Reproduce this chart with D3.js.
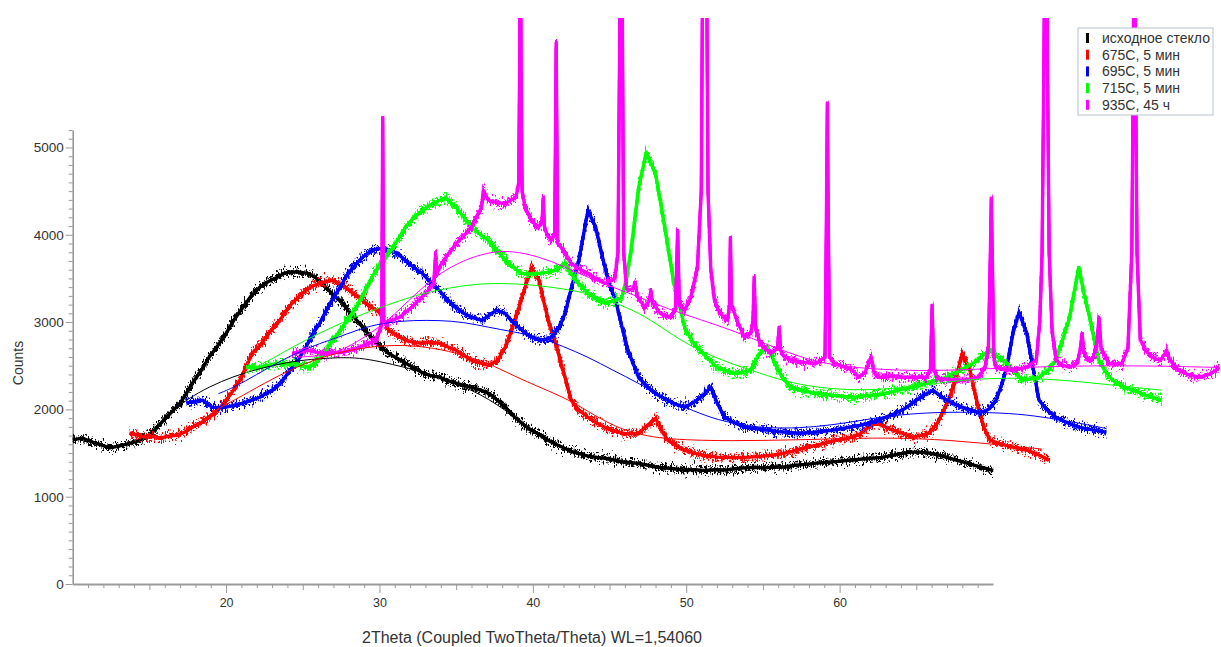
<!DOCTYPE html>
<html>
<head>
<meta charset="utf-8">
<script src="https://cdn.jsdelivr.net/npm/d3@7"></script>
<style>
  html, body { margin: 0; padding: 0; background: #fff; }
  svg { display: block; font-family: "Liberation Sans", Arial, sans-serif; }
</style>
</head>
<body>
<svg id="chart" width="1221" height="647"></svg>
<script>
// ---- Series metadata ----
const seriesNames = ["исходное стекло", "675C, 5 мин", "695C, 5 мин", "715C, 5 мин", "935C, 45 ч"];
const seriesColors = ["#000000", "#ff0000", "#0000ff", "#00ff00", "#ff00ff"];

// ---- Axis ticks ----
const xMajorTicks = [20, 30, 40, 50, 60];
const yMajorTicks = [0, 1000, 2000, 3000, 4000, 5000];

// ---- Measured patterns, [2theta position, counts] ----
const blackData = [[10.0,1650],[10.6,1670],[11.3,1625],[11.9,1590],[12.4,1560],[13.0,1580],[13.7,1610],[14.3,1640],[14.8,1680],[15.3,1760],[15.9,1870],[16.4,1960],[17.0,2070],[17.4,2180],[17.8,2300],[18.4,2450],[18.9,2600],[19.5,2740],[20.0,2870],[20.5,3020],[21.1,3170],[21.6,3290],[22.2,3400],[22.7,3460],[23.3,3510],[23.8,3560],[24.3,3575],[24.9,3570],[25.4,3555],[26.0,3490],[26.5,3400],[27.0,3310],[27.6,3215],[28.1,3100],[28.7,2985],[29.2,2880],[29.8,2760],[30.2,2700],[30.6,2640],[31.2,2580],[31.7,2530],[32.3,2470],[32.8,2420],[33.3,2390],[33.9,2370],[34.4,2330],[35.0,2300],[35.5,2275],[36.0,2255],[36.6,2220],[37.1,2185],[37.6,2120],[38.2,2025],[38.7,1930],[39.3,1840],[39.8,1770],[40.4,1715],[40.9,1655],[41.5,1600],[42.0,1560],[42.5,1520],[43.1,1490],[43.6,1465],[44.2,1450],[44.7,1440],[45.3,1420],[45.8,1400],[46.4,1390],[46.9,1380],[47.5,1360],[48.0,1340],[48.6,1330],[49.2,1320],[49.9,1305],[50.5,1310],[51.2,1300],[51.9,1310],[52.5,1305],[53.2,1320],[53.8,1330],[54.5,1338],[55.1,1330],[55.8,1340],[56.4,1340],[57.1,1360],[57.8,1370],[58.5,1385],[59.2,1395],[59.9,1405],[60.75,1420],[61.45,1430],[62.05,1440],[62.75,1450],[63.35,1470],[64.05,1495],[64.65,1510],[65.15,1510],[65.8,1500],[66.4,1480],[67.0,1450],[67.6,1420],[68.2,1390],[68.8,1360],[69.4,1330],[70.0,1300]];

const redData = [[13.7,1727],[14.3,1700],[14.8,1682],[15.2,1690],[15.7,1670],[16.2,1690],[16.8,1705],[17.3,1740],[17.8,1796],[18.4,1850],[18.9,1910],[19.5,2000],[20.0,2105],[20.4,2200],[20.9,2334],[21.3,2490],[21.7,2643],[22.2,2730],[22.6,2826],[23.0,2920],[23.5,3020],[23.9,3120],[24.3,3215],[24.8,3300],[25.2,3363],[25.6,3410],[26.1,3443],[26.5,3460],[26.9,3478],[27.4,3440],[27.8,3398],[28.2,3340],[28.7,3283],[29.1,3220],[29.5,3169],[30.0,3112],[30.3,3010],[30.6,2906],[31.2,2840],[31.7,2791],[32.2,2770],[32.8,2757],[33.3,2770],[33.9,2757],[34.4,2720],[35.0,2677],[35.5,2620],[36.0,2563],[36.6,2530],[37.1,2505],[37.7,2560],[38.2,2711],[38.6,2900],[38.9,3054],[39.2,3230],[39.5,3398],[39.9,3626],[40.1,3560],[40.4,3478],[40.8,3169],[41.1,2960],[41.5,2757],[41.8,2550],[42.1,2368],[42.5,2105],[43.0,1990],[43.6,1910],[44.1,1850],[44.7,1796],[45.2,1760],[45.8,1727],[46.3,1720],[46.9,1727],[47.3,1790],[47.7,1853],[48.0,1899],[48.4,1760],[48.8,1647],[49.3,1590],[49.9,1533],[50.5,1500],[51.0,1480],[51.5,1465],[52.0,1453],[52.6,1450],[53.1,1445],[53.6,1450],[54.2,1453],[54.7,1460],[55.3,1470],[55.8,1480],[56.4,1499],[56.9,1520],[57.5,1550],[58.0,1570],[58.5,1590],[59.1,1615],[59.6,1640],[60.25,1660],[60.85,1682],[61.35,1720],[61.85,1790],[62.35,1842],[62.85,1810],[63.35,1770],[64.05,1727],[64.75,1682],[65.25,1700],[65.85,1727],[66.4,1850],[67.0,2071],[67.3,2200],[67.6,2368],[68.0,2643],[68.2,2560],[68.5,2448],[68.8,2200],[69.1,1991],[69.4,1800],[69.8,1647],[70.4,1610],[70.8,1590],[71.3,1567],[71.7,1550],[72.2,1533],[72.7,1500],[73.2,1460],[73.7,1419]];

const blueData = [[17.4,2071],[17.9,2090],[18.5,2105],[18.8,2060],[19.1,2025],[19.6,2020],[20.0,2025],[20.5,2045],[21.1,2071],[21.6,2100],[22.2,2139],[22.7,2190],[23.3,2254],[23.8,2360],[24.3,2482],[24.8,2600],[25.2,2711],[25.6,2850],[26.1,2986],[26.5,3120],[26.9,3249],[27.4,3390],[27.8,3512],[28.2,3610],[28.7,3707],[29.1,3770],[29.5,3821],[29.8,3835],[30.2,3844],[30.6,3830],[31.2,3780],[31.7,3707],[32.2,3630],[32.8,3558],[33.3,3460],[33.9,3363],[34.4,3260],[35.0,3169],[35.5,3100],[36.0,3054],[36.7,3020],[37.1,3070],[37.6,3135],[38.2,3100],[38.7,3000],[39.3,2906],[39.8,2840],[40.4,2791],[40.8,2800],[41.2,2826],[41.7,2930],[42.1,3100],[42.5,3380],[43.0,3707],[43.3,4000],[43.6,4279],[44.1,4084],[44.4,3850],[44.7,3626],[45.0,3430],[45.4,3249],[45.8,2950],[46.2,2677],[46.9,2368],[47.3,2290],[47.7,2219],[48.2,2160],[48.8,2105],[49.3,2060],[49.9,2025],[50.3,2060],[50.7,2105],[51.2,2180],[51.6,2254],[52.0,2080],[52.5,1910],[53.1,1850],[53.8,1796],[54.5,1780],[55.3,1762],[56.0,1745],[56.7,1735],[57.4,1727],[58.2,1735],[58.9,1750],[59.6,1762],[60.45,1790],[61.25,1815],[61.95,1842],[62.55,1880],[63.15,1920],[63.65,1956],[64.25,2010],[64.75,2071],[65.35,2150],[66.1,2219],[66.5,2160],[67.0,2105],[67.5,2060],[68.0,2025],[68.6,1990],[69.1,1956],[69.7,2000],[70.2,2105],[70.6,2300],[70.9,2482],[71.3,2871],[71.7,3112],[72.2,2871],[72.6,2482],[73.0,2105],[73.5,2000],[74.1,1910],[74.8,1850],[75.6,1796],[76.5,1765],[77.4,1739]];

const greenData = [[21.3,2482],[21.7,2480],[22.2,2482],[22.7,2500],[23.3,2528],[23.8,2520],[24.3,2528],[24.9,2500],[25.4,2482],[26.0,2560],[26.5,2677],[27.0,2800],[27.6,2940],[28.0,3050],[28.5,3169],[29.0,3340],[29.5,3512],[30.0,3650],[30.6,3787],[31.2,3940],[31.7,4084],[32.2,4190],[32.8,4279],[33.3,4340],[33.9,4393],[34.3,4427],[35.0,4313],[35.5,4200],[36.0,4084],[36.6,4000],[37.1,3935],[37.7,3820],[38.2,3707],[38.7,3630],[39.3,3558],[39.8,3550],[40.4,3558],[40.9,3570],[41.5,3592],[42.1,3672],[42.5,3558],[43.0,3440],[43.6,3329],[44.1,3270],[44.7,3215],[45.2,3240],[45.8,3283],[46.1,3500],[46.4,3821],[46.9,4542],[47.4,4942],[48.0,4702],[48.6,4084],[49.2,3443],[49.9,2940],[50.4,2780],[50.9,2677],[51.5,2570],[52.0,2482],[52.6,2440],[53.1,2414],[53.7,2420],[54.2,2448],[54.5,2550],[54.8,2643],[55.3,2711],[55.6,2600],[55.9,2482],[56.3,2360],[56.8,2254],[57.6,2210],[58.5,2185],[59.6,2160],[60.85,2139],[61.95,2160],[63.05,2185],[63.85,2220],[64.75,2254],[65.85,2310],[67.0,2368],[67.8,2440],[68.7,2528],[69.2,2600],[69.8,2677],[70.3,2600],[70.9,2528],[71.4,2430],[71.9,2334],[72.5,2350],[73.0,2368],[73.6,2450],[74.1,2563],[74.5,2780],[75.0,3054],[75.3,3350],[75.6,3626],[75.9,3350],[76.3,3054],[76.6,2800],[76.9,2563],[77.3,2440],[77.8,2334],[78.4,2270],[79.1,2219],[80.0,2160],[81.0,2105]];

const magentaData = [[24.3,2643],[24.9,2660],[25.4,2677],[26.0,2650],[26.5,2643],[27.0,2650],[27.6,2654],[28.1,2680],[28.7,2711],[29.2,2750],[29.8,2791],[30.1,2950],[30.15,3020],[30.21,5342],[30.28,3000],[30.4,2986],[30.8,3020],[31.3,3054],[31.7,3110],[32.1,3169],[32.6,3260],[33.2,3363],[33.55,3450],[33.66,3787],[33.75,3550],[33.9,3626],[34.4,3760],[35.0,3901],[35.5,3990],[36.0,4084],[36.3,4200],[36.65,4313],[36.78,4507],[37.1,4393],[37.6,4370],[38.2,4359],[38.6,4400],[38.9,4427],[39.08,4600],[39.14,6000],[39.18,8200],[39.23,6000],[39.3,4500],[39.5,4313],[39.9,4164],[40.36,4084],[40.6,4150],[40.68,4427],[40.75,4100],[40.9,4015],[41.2,3935],[41.42,4000],[41.47,5000],[41.52,6200],[41.57,5000],[41.62,3900],[41.84,3855],[42.2,3760],[42.5,3672],[43.0,3610],[43.6,3558],[44.1,3500],[44.7,3443],[45.1,3480],[45.35,3500],[45.55,3800],[45.65,6000],[45.75,9500],[45.85,6000],[45.92,3800],[46.1,3400],[46.2,3363],[46.5,3380],[46.66,3443],[46.8,3300],[47.3,3169],[47.6,3250],[47.7,3363],[47.8,3220],[48.3,3100],[49.0,3054],[49.3,3150],[49.44,4050],[49.55,3200],[49.9,3135],[50.3,3283],[50.73,3626],[50.98,4500],[51.05,6500],[51.2,9000],[51.35,6500],[51.42,4500],[51.6,3600],[51.84,3249],[52.2,3100],[52.7,3020],[52.82,3200],[52.88,3970],[52.95,3200],[53.3,3020],[53.8,2826],[54.2,2871],[54.35,3000],[54.43,3512],[54.52,2950],[54.8,2757],[55.5,2643],[55.95,2700],[56.06,2940],[56.15,2680],[56.4,2597],[57.4,2540],[58.5,2528],[59.05,2600],[59.13,4000],[59.2,5503],[59.27,4000],[59.35,2600],[59.65,2528],[60.25,2490],[60.85,2448],[61.25,2368],[61.65,2420],[62.05,2597],[62.25,2420],[62.55,2368],[63.35,2380],[64.05,2368],[64.85,2370],[65.65,2368],[65.92,2450],[66.03,3192],[66.14,2450],[66.4,2357],[67.2,2340],[68.0,2334],[68.6,2350],[69.1,2368],[69.5,2500],[69.7,2700],[69.83,3800],[69.89,4416],[69.96,3700],[70.05,2600],[70.2,2482],[70.7,2460],[71.3,2448],[71.7,2465],[72.2,2482],[72.82,2563],[73.05,3000],[73.2,3800],[73.32,6000],[73.44,9000],[73.55,6000],[73.66,3800],[73.85,2900],[74.12,2563],[74.5,2510],[75.0,2482],[75.5,2530],[75.7,2700],[75.81,2871],[75.92,2650],[76.2,2560],[76.45,2563],[76.75,2700],[76.91,3054],[77.05,2700],[77.55,2528],[78.0,2520],[78.4,2528],[78.8,2700],[79.05,3800],[79.15,6000],[79.22,9000],[79.29,6000],[79.39,3800],[79.6,2800],[79.96,2677],[80.35,2597],[80.9,2560],[81.15,2620],[81.32,2677],[81.5,2580],[82.1,2448],[82.7,2400],[83.4,2368],[83.9,2390],[84.25,2414],[84.75,2482]];

// ---- Fitted amorphous backgrounds ----
const blackFit = [[16.3,1960],[17.5,2120],[18.9,2260],[20.5,2380],[22.2,2470],[24.0,2540],[25.5,2575],[27.4,2595],[28.7,2590],[30.0,2550],[31.7,2480],[33.0,2420],[33.9,2360],[35.0,2290],[36.0,2220],[37.1,2120],[38.2,1990],[39.3,1850],[40.4,1720]];
const redFit = [[19.3,1990],[21.0,2150],[23.0,2350],[25.0,2520],[27.0,2640],[29.0,2710],[31.0,2740],[33.0,2720],[35.0,2650],[37.1,2530],[38.8,2380],[40.5,2250],[42.5,2100],[44.0,1930],[45.75,1770],[47.5,1690],[49.0,1660],[51.0,1645],[53.0,1640],[55.0,1645],[57.0,1650],[59.0,1660],[61.15,1670],[63.15,1672],[65.15,1665],[67.2,1645],[69.2,1615],[71.2,1580],[73.2,1545]];
const blueFit = [[19.5,2180],[20.5,2250],[22.0,2400],[23.5,2550],[25.0,2680],[26.5,2780],[27.4,2830],[29.0,2940],[30.6,3000],[32.2,3020],[33.9,3020],[35.5,3000],[37.1,2940],[38.7,2890],[40.4,2830],[42.0,2720],[43.6,2600],[45.2,2450],[46.9,2300],[48.8,2110],[50.5,1980],[52.0,1880],[54.2,1800],[56.3,1780],[58.5,1800],[60.65,1850],[62.55,1910],[64.65,1950],[66.7,1968],[69.1,1968],[71.7,1950],[73.7,1900],[75.7,1840],[77.4,1780]];
const greenFit = [[21.3,2420],[23.0,2580],[25.0,2780],[27.0,2950],[29.0,3100],[30.6,3200],[32.2,3300],[33.9,3370],[35.5,3420],[37.1,3445],[38.7,3440],[40.4,3420],[42.0,3380],[43.6,3330],[45.2,3230],[46.9,3110],[48.4,2940],[49.9,2760],[52.0,2580],[54.2,2450],[56.4,2320],[58.5,2250],[60.85,2220],[63.05,2230],[65.15,2270],[67.2,2320],[69.1,2350],[71.2,2360],[73.2,2350],[75.6,2320],[78.2,2270],[81.0,2220]];
const magentaFit = [[24.8,2600],[26.0,2610],[27.4,2660],[29.0,2820],[30.6,3020],[32.2,3300],[33.9,3560],[35.5,3710],[37.1,3800],[38.6,3820],[40.4,3750],[42.0,3640],[43.6,3510],[45.2,3400],[46.9,3290],[48.8,3150],[50.9,3030],[53.1,2900],[55.3,2740],[57.4,2600],[59.6,2500],[63.05,2450],[66.2,2440],[70.2,2470],[75.2,2500],[80.2,2500],[84.75,2480]];

const patterns = [blackData, redData, blueData, greenData, magentaData];
const fits = [blackFit, redFit, blueFit, greenFit, magentaFit];

// ---- Layout ----
const svg = d3.select("#chart");
const x = d3.scaleLinear().domain([10, 70]).range([72.7, 993]);
const y = d3.scaleLinear().domain([0, 5200]).range([584, 130]);

const defs = svg.append("defs");
defs.append("clipPath").attr("id", "plotClip")
  .append("rect").attr("x", 0).attr("y", 18).attr("width", 1221).attr("height", 629);

// counting-noise texture for the measured patterns (vertical jitter only)
function grainFilter(id, seed, scale) {
  const f = defs.append("filter").attr("id", id)
    .attr("x", "-2%").attr("y", "-10%").attr("width", "104%").attr("height", "120%")
    .attr("color-interpolation-filters", "sRGB");
  f.append("feTurbulence").attr("type", "fractalNoise")
    .attr("baseFrequency", "1.1 0.25").attr("numOctaves", 2).attr("seed", seed).attr("result", "noise");
  f.append("feColorMatrix").attr("in", "noise").attr("type", "matrix")
    .attr("values", "0 0 0 0 0.5  0 1 0 0 0  0 0 0 0 0  0 0 0 0 1").attr("result", "shift");
  f.append("feDisplacementMap").attr("in", "SourceGraphic").attr("in2", "shift")
    .attr("scale", scale).attr("xChannelSelector", "R").attr("yChannelSelector", "G");
}
grainFilter("grainA", 4, 18);
grainFilter("grainB", 11, 24);

// ---- Axes ----
const axisColor = "#9a9a9a";
const textColor = "#333";

const xAxisG = svg.append("g").attr("transform", "translate(0,584)");
// minor (every 1 degree), medium (every 5), major with labels (every 10)
xAxisG.append("g").call(d3.axisBottom(x).tickValues(d3.range(11, 70, 1).filter(v => v % 5 !== 0)).tickSize(4).tickFormat(""))
  .call(g => g.select(".domain").remove());
xAxisG.append("g").call(d3.axisBottom(x).tickValues([15, 25, 35, 45, 55, 65]).tickSize(6).tickFormat(""))
  .call(g => g.select(".domain").remove());
xAxisG.append("g").call(d3.axisBottom(x).tickValues(xMajorTicks).tickSize(9).tickSizeOuter(0).tickPadding(5).tickFormat(d3.format("d")))
  .call(g => g.select(".domain").attr("stroke-width", 2));
xAxisG.selectAll("line").attr("stroke", axisColor);
xAxisG.selectAll(".domain").attr("stroke", axisColor);
xAxisG.selectAll("text").attr("fill", textColor).style("font-size", "12.5px")
  .style("font-family", "'Liberation Sans', Arial, sans-serif");

const yAxisG = svg.append("g").attr("transform", "translate(72.7,0)");
yAxisG.append("g").call(d3.axisLeft(y).tickValues(d3.range(100, 5201, 100).filter(v => v % 1000 !== 0)).tickSize(4).tickFormat(""))
  .call(g => g.select(".domain").remove());
yAxisG.append("g").call(d3.axisLeft(y).tickValues(yMajorTicks).tickSize(7).tickSizeOuter(0).tickPadding(2).tickFormat(d3.format("d")))
  .call(g => g.select(".domain").attr("stroke-width", 1.6));
yAxisG.selectAll("line").attr("stroke", axisColor);
yAxisG.selectAll(".domain").attr("stroke", axisColor);
yAxisG.selectAll("text").attr("fill", textColor).style("font-size", "13.5px")
  .style("font-family", "'Liberation Sans', Arial, sans-serif");

// axis titles
svg.append("text")
  .attr("transform", "translate(23,363) rotate(-90)")
  .attr("text-anchor", "middle")
  .attr("fill", textColor)
  .style("font-size", "14px")
  .text("Counts");
svg.append("text")
  .attr("x", 532).attr("y", 643)
  .attr("text-anchor", "middle")
  .attr("fill", textColor)
  .style("font-size", "16px")
  .text("2Theta (Coupled TwoTheta/Theta) WL=1,54060");

// ---- Curves ----
const plot = svg.append("g").attr("clip-path", "url(#plotClip)");
const line = d3.line().x(d => x(d[0])).y(d => y(d[1]));
const smooth = d3.line().x(d => x(d[0])).y(d => y(d[1])).curve(d3.curveBasis);

patterns.forEach((data, i) => {
  const g = plot.append("g");
  g.append("path").datum(data)
    .attr("d", line)
    .attr("fill", "none")
    .attr("stroke", seriesColors[i])
    .attr("stroke-width", 3.4)
    .attr("stroke-linejoin", "round");
  ["grainA", "grainB"].forEach(fid => {
    g.append("path").datum(data)
      .attr("d", line)
      .attr("fill", "none")
      .attr("stroke", seriesColors[i])
      .attr("stroke-width", 2.8)
      .attr("filter", `url(#${fid})`);
  });
});

fits.forEach((data, i) => {
  plot.append("path").datum(data)
    .attr("d", smooth)
    .attr("fill", "none")
    .attr("stroke", seriesColors[i])
    .attr("stroke-width", 1);
});

// ---- Legend ----
const legend = svg.append("g").attr("transform", "translate(1078,28)");
legend.append("rect")
  .attr("width", 135).attr("height", 87)
  .attr("fill", "#fff")
  .attr("stroke", "#b7c2cf")
  .attr("stroke-width", 1);
seriesNames.forEach((name, i) => {
  const row = legend.append("g").attr("transform", `translate(0,${10 + i * 16.7})`);
  row.append("rect")
    .attr("x", 8).attr("y", -5).attr("width", 3).attr("height", 10)
    .attr("fill", seriesColors[i]);
  row.append("text")
    .attr("x", 24).attr("y", 0).attr("dy", "0.35em")
    .attr("fill", textColor)
    .style("font-size", "14px")
    .text(name);
});
</script>
</body>
</html>
